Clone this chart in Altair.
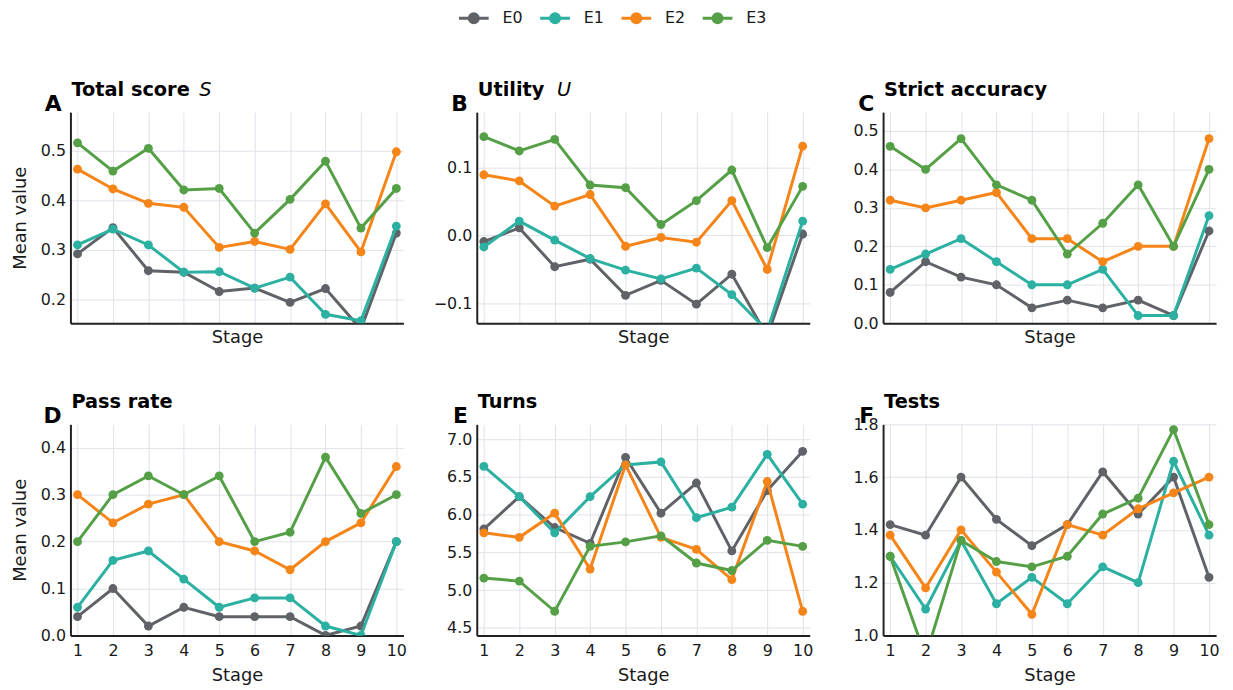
import altair as alt
import pandas as pd

stages = list(range(1, 11))
experiments = ["E0", "E1", "E2", "E3"]
colors = ["#5f6368", "#2bb0a1", "#f58518", "#55a047"]

# Panel A: Total score S
total_E0 = [0.292, 0.345, 0.258, 0.255, 0.216, 0.223, 0.194, 0.222, 0.140, 0.334]
total_E1 = [0.310, 0.342, 0.310, 0.255, 0.256, 0.223, 0.245, 0.170, 0.157, 0.348]
total_E2 = [0.463, 0.423, 0.394, 0.386, 0.305, 0.317, 0.301, 0.393, 0.296, 0.498]
total_E3 = [0.516, 0.459, 0.505, 0.421, 0.424, 0.334, 0.402, 0.479, 0.344, 0.424]

# Panel B: Utility U
util_E0 = [-0.009, 0.011, -0.046, -0.035, -0.088, -0.066, -0.101, -0.057, -0.148, 0.002]
util_E1 = [-0.017, 0.021, -0.007, -0.034, -0.051, -0.064, -0.048, -0.087, -0.140, 0.021]
util_E2 = [0.089, 0.080, 0.043, 0.060, -0.016, -0.003, -0.010, 0.051, -0.050, 0.131]
util_E3 = [0.145, 0.124, 0.141, 0.074, 0.070, 0.016, 0.051, 0.096, -0.018, 0.072]

# Panel C: Strict accuracy
acc_E0 = [0.08, 0.16, 0.12, 0.10, 0.04, 0.06, 0.04, 0.06, 0.02, 0.24]
acc_E1 = [0.14, 0.18, 0.22, 0.16, 0.10, 0.10, 0.14, 0.02, 0.02, 0.28]
acc_E2 = [0.32, 0.30, 0.32, 0.34, 0.22, 0.22, 0.16, 0.20, 0.20, 0.48]
acc_E3 = [0.46, 0.40, 0.48, 0.36, 0.32, 0.18, 0.26, 0.36, 0.20, 0.40]

# Panel D: Pass rate
pass_E0 = [0.04, 0.10, 0.02, 0.06, 0.04, 0.04, 0.04, 0.00, 0.02, 0.20]
pass_E1 = [0.06, 0.16, 0.18, 0.12, 0.06, 0.08, 0.08, 0.02, 0.00, 0.20]
pass_E2 = [0.30, 0.24, 0.28, 0.30, 0.20, 0.18, 0.14, 0.20, 0.24, 0.36]
pass_E3 = [0.20, 0.30, 0.34, 0.30, 0.34, 0.20, 0.22, 0.38, 0.26, 0.30]

# Panel E: Turns
turns_E0 = [5.81, 6.24, 5.83, 5.62, 6.76, 6.02, 6.42, 5.52, 6.32, 6.84]
turns_E1 = [6.64, 6.24, 5.76, 6.24, 6.66, 6.70, 5.96, 6.10, 6.80, 6.14]
turns_E2 = [5.76, 5.70, 6.02, 5.28, 6.66, 5.70, 5.54, 5.14, 6.44, 4.72]
turns_E3 = [5.16, 5.12, 4.72, 5.58, 5.64, 5.72, 5.36, 5.26, 5.66, 5.58]

# Panel F: Tests
tests_E0 = [1.42, 1.38, 1.60, 1.44, 1.34, 1.42, 1.62, 1.46, 1.60, 1.22]
tests_E1 = [1.30, 1.10, 1.36, 1.12, 1.22, 1.12, 1.26, 1.20, 1.66, 1.38]
tests_E2 = [1.38, 1.18, 1.40, 1.24, 1.08, 1.42, 1.38, 1.48, 1.54, 1.60]
tests_E3 = [1.30, 0.92, 1.36, 1.28, 1.26, 1.30, 1.46, 1.52, 1.78, 1.42]

FONT = "DejaVu Sans"
TXT = "#1a1a1a"
LEGEND_PATH = "M-2,0H2M-0.6,0A0.6,0.6,0,1,1,0.6,0A0.6,0.6,0,1,1,-0.6,0Z"


def long_df(series):
    rows = []
    for exp, vals in zip(experiments, series):
        for s, v in zip(stages, vals):
            rows.append({"stage": s, "exp": exp, "value": v})
    return pd.DataFrame(rows)


legend = alt.Legend(
    title=None, orient="none", legendX=398, legendY=-104, direction="horizontal",
    symbolType=LEGEND_PATH, symbolSize=225, symbolStrokeWidth=3, symbolOpacity=1,
    labelFontSize=16, labelFont=FONT, labelColor=TXT, labelOffset=20,
    columnPadding=11, padding=0,
)
color_scale = alt.Scale(domain=experiments, range=colors)


def panel(series, title, italic, italic_x, letter, ydom, yticks, yfmt, top_row, first_col):
    df = long_df(series)
    xaxis = alt.Axis(values=stages, labels=not top_row, title="Stage", ticks=False,
                     labelPadding=7, titlePadding=5 if top_row else 8, format="d")
    yaxis = alt.Axis(values=yticks, format=yfmt, title="Mean value" if first_col else None,
                     ticks=False, labelPadding=5, titlePadding=11)
    x = alt.X("stage:Q", scale=alt.Scale(domain=[0.8, 10.2], nice=False, zero=False), axis=xaxis)
    y = alt.Y("value:Q", scale=alt.Scale(domain=ydom, nice=False, zero=False), axis=yaxis)
    stroke_enc = alt.Stroke("exp:N", scale=color_scale, legend=legend)
    fill_enc = alt.Fill("exp:N", scale=color_scale, legend=legend)
    layers = []
    for e in experiments:
        b = alt.Chart(df).transform_filter(alt.datum.exp == e)
        layers.append(b.mark_line(strokeWidth=3, clip=True).encode(x=x, y=y, stroke=stroke_enc))
        layers.append(b.mark_circle(size=80, opacity=1, strokeWidth=0, clip=True).encode(
            x=x, y=y, fill=fill_enc, stroke=stroke_enc))
    one = pd.DataFrame({"a": [0]})
    layers.append(alt.Chart(one).mark_text(
        text=title, align="left", baseline="alphabetic", font=FONT, fontSize=19.5,
        fontWeight="bold", color="#000").encode(x=alt.value(1), y=alt.value(-16)))
    if italic:
        layers.append(alt.Chart(one).mark_text(
            text=italic, align="left", baseline="alphabetic", font=FONT, fontSize=19.5,
            fontStyle="italic", color="#000").encode(x=alt.value(italic_x), y=alt.value(-16)))
    layers.append(alt.Chart(one).mark_text(
        text=letter, align="right", baseline="alphabetic", font=FONT, fontSize=22,
        fontWeight="bold", color="#000").encode(x=alt.value(-9), y=alt.value(-1)))
    return alt.layer(*layers).properties(width=336, height=213)


panels = [
    panel([total_E0, total_E1, total_E2, total_E3], "Total score", "S", 130, "A",
          [0.152, 0.578], [0.2, 0.3, 0.4, 0.5], ".1f", True, True),
    panel([util_E0, util_E1, util_E2, util_E3], "Utility", "U", 81, "B",
          [-0.129, 0.181], [-0.1, 0.0, 0.1], ".1f", True, False),
    panel([acc_E0, acc_E1, acc_E2, acc_E3], "Strict accuracy", None, 0, "C",
          [0.0, 0.549], [0.0, 0.1, 0.2, 0.3, 0.4, 0.5], ".1f", True, False),
    panel([pass_E0, pass_E1, pass_E2, pass_E3], "Pass rate", None, 0, "D",
          [0.0, 0.45], [0.0, 0.1, 0.2, 0.3, 0.4], ".1f", False, True),
    panel([turns_E0, turns_E1, turns_E2, turns_E3], "Turns", None, 0, "E",
          [4.40, 7.198], [4.5, 5.0, 5.5, 6.0, 6.5, 7.0], ".1f", False, False),
    panel([tests_E0, tests_E1, tests_E2, tests_E3], "Tests", None, 0, "F",
          [1.0, 1.8], [1.0, 1.2, 1.4, 1.6, 1.8], ".1f", False, False),
]

chart = alt.concat(*panels, columns=3, spacing={"row": 102, "column": 74}, bounds="flush").properties(
    padding={"left": 3, "top": -2, "right": 5, "bottom": 5}
).configure_view(stroke=None).configure_axis(
    labelFont=FONT, labelFontSize=16, labelColor=TXT,
    titleFont=FONT, titleFontSize=18, titleFontWeight="normal", titleColor=TXT,
    gridColor="#dfe2ea", gridWidth=1, domainColor="#222222", domainWidth=2,
)

chart.save("out.html", embed_options={"renderer": "svg", "actions": False})
